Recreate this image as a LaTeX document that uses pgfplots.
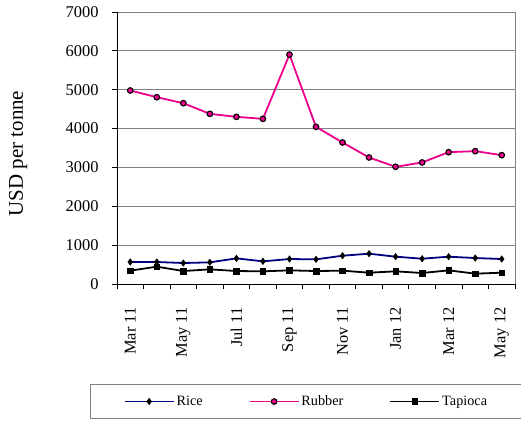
\documentclass[border=0pt]{standalone}
\usepackage{fontspec}
\setmainfont{Liberation Serif}
\usepackage{pgfplots}
\pgfplotsset{compat=1.18}
\definecolor{navyline}{RGB}{0,0,128}
\definecolor{gridgray}{RGB}{128,128,128}
\begin{document}
\begin{tikzpicture}
\path[use as bounding box] (0,0) rectangle (521bp,421bp);
\begin{axis}[
  at={(117bp,137bp)}, anchor=south west,
  scale only axis, width=398bp, height=272bp,
  xmin=-0.5, xmax=14.5, ymin=0, ymax=7000,
  axis lines*=left,
  axis line style={black, line width=1bp},
  ytick={0,1000,...,7000},
  scaled y ticks=false,
  /pgf/number format/1000 sep={},
  /pgf/number format/assume math mode=true,
  ymajorgrids, grid style={gridgray, line width=0.8bp},
  tick align=outside,
  major tick length=5bp,
  tick style={black, line width=0.8bp},
  xtick={-0.5,0.5,...,14.5}, xticklabels={},
  extra x ticks={0,2,4,6,8,10,12,14},
  extra x tick labels={Mar 11,May 11,Jul 11,Sep 11,Nov 11,Jan 12,Mar 12,May 12},
  extra x tick style={major tick length=0pt, grid=none},
  xticklabel shift=20bp,
  yticklabel shift=10bp,
  xticklabel style={rotate=90, anchor=east, font=\fontsize{16.5}{18}\selectfont},
  yticklabel style={font=\fontsize{16.5}{18}\selectfont},
  ylabel={USD per tonne},
  ylabel style={at={(axis description cs:-0.248,0.48)}, anchor=center, font=\fontsize{21}{24}\selectfont},
  legend columns=3,
  legend style={at={(0.476,-0.432)}, anchor=center, draw=gridgray, line width=0.8bp,
    font=\fontsize{14.3}{16}\selectfont, inner xsep=33bp, inner ysep=9.5bp,
    /tikz/every even column/.append style={column sep=44bp}},
  legend image code/.code={\draw[mark repeat=2,mark phase=2] plot coordinates {(0bp,0bp) (24.5bp,0bp) (49bp,0bp)};},
  after end axis/.code={\draw[gridgray, line width=0.8bp] (rel axis cs:1,0) -- (rel axis cs:1,1);},
]
\addplot[navyline, line width=1.8bp, mark=diamond*, mark size=3.2bp, mark options={black, fill=black, line width=0.5bp}]
coordinates {(0,566) (1,566) (2,540) (3,557) (4,660) (5,583) (6,643) (7,634) (8,728) (9,780) (10,703) (11,651) (12,703) (13,668) (14,643)};
\addlegendentry{Rice}
\addplot[magenta, line width=1.8bp, mark=*, mark size=2.8bp, mark options={draw=black, fill=magenta, line width=1.1bp}]
coordinates {(0,4980) (1,4807) (2,4653) (3,4379) (4,4302) (5,4250) (6,5904) (7,4045) (8,3642) (9,3256) (10,3016) (11,3128) (12,3393) (13,3419) (14,3316)};
\addlegendentry{Rubber}
\addplot[black, line width=1.8bp, mark=square*, mark size=2.8bp, mark options={black, fill=black, line width=0.5bp}]
coordinates {(0,343) (1,446) (2,334) (3,377) (4,334) (5,326) (6,351) (7,334) (8,343) (9,291) (10,326) (11,283) (12,351) (13,266) (14,291)};
\addlegendentry{Tapioca}
\end{axis}
\end{tikzpicture}
\end{document}
